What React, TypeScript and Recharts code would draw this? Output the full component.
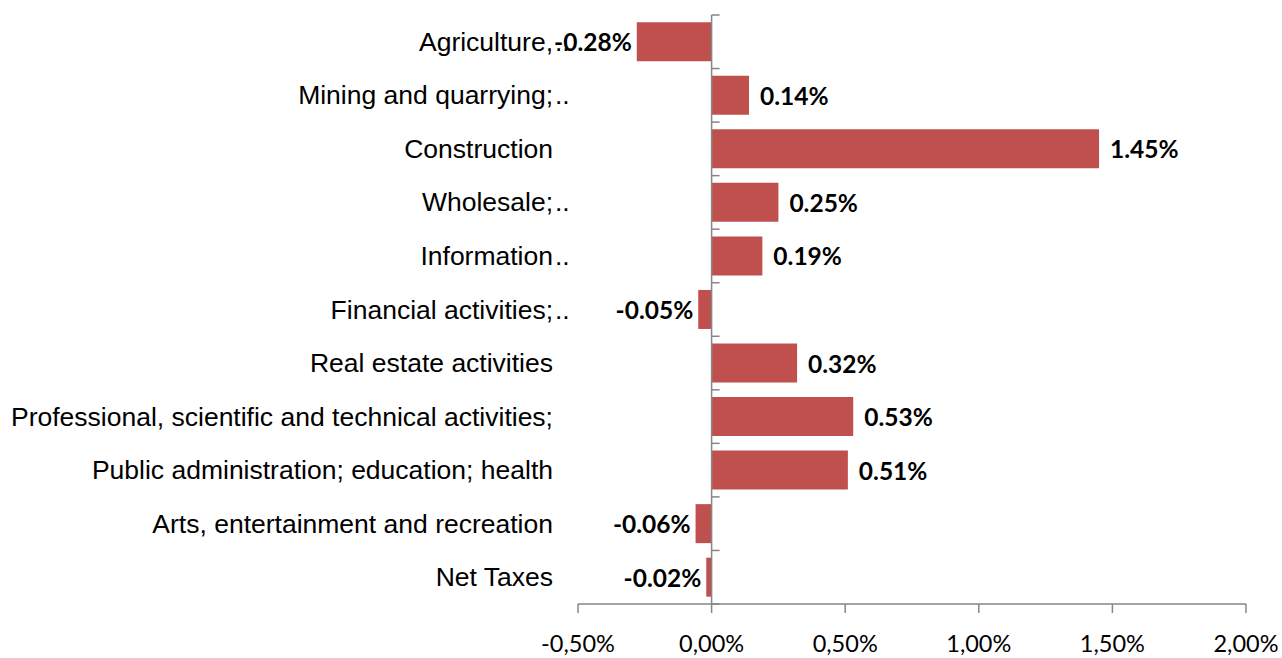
import React from 'react';
import { BarChart, Bar, XAxis, YAxis, ReferenceLine, LabelList } from 'recharts';

// sector contributions (percentage points), top to bottom
const categories = [
  'Agriculture,..',
  'Mining and quarrying;..',
  'Construction',
  'Wholesale;..',
  'Information..',
  'Financial activities;..',
  'Real estate activities',
  'Professional, scientific and technical activities;',
  'Public administration; education; health',
  'Arts, entertainment and recreation',
  'Net Taxes',
];
const values = [-0.28, 0.14, 1.45, 0.25, 0.19, -0.05, 0.32, 0.53, 0.51, -0.06, -0.02];
const xTicks = [-0.5, 0, 0.5, 1, 1.5, 2];

const data = categories.map((name, i) => ({ name, value: values[i] }));

const AXIS = '#868686';
const BAR = '#C0504D';
const LABEL_FONT = '"Liberation Sans", Arial, sans-serif';
const NUM_FONT = 'Lato, "Open Sans", sans-serif';

const CategoryTick = (props: any) => {
  const { x, y, payload } = props;
  const label: string = payload.value;
  const cut = label.endsWith('..');
  const main = cut ? label.slice(0, -2) : label;
  return (
    <g>
      <text x={x} y={y} textAnchor="end" dominantBaseline="central" fontFamily={LABEL_FONT} fontSize={26.5} fill="#000">
        {main}
      </text>
      {cut && (
        <text x={x + 2} y={y} textAnchor="start" dominantBaseline="central" fontFamily={LABEL_FONT} fontSize={26.5} fill="#000">
          ..
        </text>
      )}
    </g>
  );
};

// the vertical axis sits on zero, with category ticks at band edges
const ZeroAxis = (props: any) => {
  const { x1, y1, y2 } = props;
  const n = categories.length;
  const step = (y2 - y1) / n;
  return (
    <g>
      <line x1={x1} y1={y1} x2={x1} y2={y2} stroke={AXIS} strokeWidth={1.5} />
      {Array.from({ length: n + 1 }, (_, i) => (
        <line key={i} x1={x1} x2={x1 + 8} y1={y1 + i * step} y2={y1 + i * step} stroke={AXIS} strokeWidth={1.5} />
      ))}
    </g>
  );
};

const ValueLabel = (props: any) => {
  const { x, y, width, height, value } = props;
  const left = Math.min(x, x + width);
  const right = Math.max(x, x + width);
  const neg = value < 0;
  return (
    <text
      x={neg ? left - 5 : right + 11}
      y={y + height / 2}
      textAnchor={neg ? 'end' : 'start'}
      dominantBaseline="central"
      fontFamily={NUM_FONT}
      fontWeight={700}
      fontSize={24.5}
      fill="#000"
    >
      {value.toFixed(2)}%
    </text>
  );
};

export default function App() {
  return (
    <div style={{ position: 'absolute', left: 0, top: 0, background: '#fff' }}>
      <BarChart
        width={1282}
        height={658}
        data={data}
        layout="vertical"
        margin={{ top: 15, right: 36, left: 0, bottom: 0 }}
        barCategoryGap="13.5%"
      >
        <XAxis
          type="number"
          domain={[-0.5, 2]}
          ticks={xTicks}
          interval={0}
          height={54}
          tickFormatter={(v: number) => v.toFixed(2).replace('.', ',') + '%'}
          axisLine={{ stroke: AXIS, strokeWidth: 1.5 }}
          tickLine={{ stroke: AXIS, strokeWidth: 1.5 }}
          tickSize={9}
          tickMargin={22}
          tick={{ fill: '#000', fontFamily: NUM_FONT, fontSize: 23.5 }}
        />
        <YAxis
          type="category"
          dataKey="name"
          width={578}
          interval={0}
          axisLine={false}
          tickLine={false}
          tickSize={0}
          tickMargin={25}
          tick={CategoryTick}
        />
        <Bar dataKey="value" fill={BAR} isAnimationActive={false}>
          <LabelList dataKey="value" content={ValueLabel} />
        </Bar>
        <ReferenceLine x={0} stroke={AXIS} shape={ZeroAxis} />
      </BarChart>
    </div>
  );
}
